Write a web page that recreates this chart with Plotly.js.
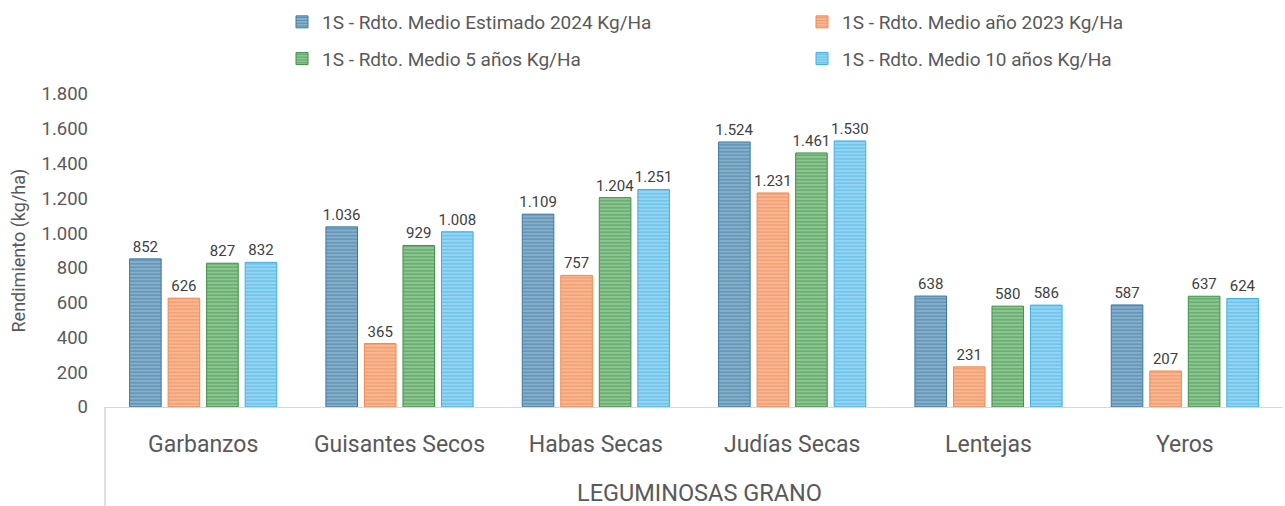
<!DOCTYPE html>
<html>
<head>
<meta charset="utf-8">
<script src="https://cdn.plot.ly/plotly-3.0.1.min.js"></script>
<style>html,body{margin:0;padding:0;background:#fff;}#chart{width:1285px;height:506px;}</style>
</head>
<body>
<div id="chart"></div>
<script>
const categories = ["Garbanzos", "Guisantes Secos", "Habas Secas", "Judías Secas", "Lentejas", "Yeros"];
const seriesNames = [
  "1S - Rdto. Medio Estimado 2024 Kg/Ha",
  "1S - Rdto. Medio año 2023 Kg/Ha",
  "1S - Rdto. Medio 5 años Kg/Ha",
  "1S - Rdto. Medio 10 años Kg/Ha"
];
const rdto2024 = [852, 1036, 1109, 1524, 638, 587];
const rdto2023 = [626, 365, 757, 1231, 231, 207];
const rdto5 = [827, 929, 1204, 1461, 580, 637];
const rdto10 = [832, 1008, 1251, 1530, 586, 624];
const groupLabel = "LEGUMINOSAS GRANO";
const yTitle = "Rendimiento (kg/ha)";

const styles = [
  {bg: "#86AFCB", fg: "#2E6A91", line: "#3C7AA3"},
  {bg: "#F8B793", fg: "#EB7A3E", line: "#F08A52"},
  {bg: "#8CC690", fg: "#2F7D3B", line: "#3E9148"},
  {bg: "#95D5F3", fg: "#2EA4DD", line: "#3FB0E6"}
];
const values = [rdto2024, rdto2023, rdto5, rdto10];
const legendOf = ["legend", "legend2", "legend", "legend2"];

const traces = values.map((v, i) => ({
  type: "bar",
  name: seriesNames[i],
  x: categories,
  y: v,
  legend: legendOf[i],
  legendgroup: "g" + i,
  texttemplate: "%{y:,}",
  textposition: "outside",
  constraintext: "none",
  cliponaxis: false,
  textfont: {family: "Roboto, sans-serif", size: 15, color: "#404040"},
  marker: {
    color: styles[i].bg,
    line: {color: styles[i].line, width: 1},
    pattern: {shape: "-", fgcolor: styles[i].fg, bgcolor: styles[i].bg, size: 3.5, solidity: 0.35, fillmode: "overlay"}
  },
  hoverinfo: "y"
}));

const legendCommon = {
  orientation: "v",
  xref: "container", yref: "container",
  xanchor: "left", yanchor: "top",
  y: 1 - 3 / 506,
  font: {size: 19, color: "#595959"},
  itemwidth: 30,
  tracegroupgap: 9,
  bgcolor: "rgba(0,0,0,0)"
};

const layout = {
  width: 1285,
  height: 506,
  margin: {l: 105, r: 2, t: 94, b: 99, autoexpand: false},
  paper_bgcolor: "#ffffff",
  plot_bgcolor: "#ffffff",
  separators: ",.",
  font: {family: "Roboto, sans-serif", color: "#595959"},
  barmode: "group",
  bargap: 0.215,
  bargroupgap: 0.18,
  showlegend: true,
  legend: Object.assign({}, legendCommon, {x: 282 / 1285}),
  legend2: Object.assign({}, legendCommon, {x: 802 / 1285}),
  xaxis: {
    type: "category",
    showline: true,
    linecolor: "#d9d9d9",
    linewidth: 1,
    ticks: "",
    showgrid: false,
    zeroline: false,
    tickangle: 0,
    tickfont: {size: 23, color: "#595959"},
    ticklabelstandoff: 16
  },
  yaxis: {
    range: [0, 1800],
    dtick: 200,
    tickformat: ",",
    showgrid: false,
    zeroline: false,
    showline: false,
    ticks: "",
    tickfont: {size: 18.5, color: "#595959"},
    ticklabelstandoff: 16
  },
  annotations: [
    {
      text: groupLabel,
      xref: "paper", yref: "paper",
      x: 0.505, y: -0.275,
      xanchor: "center", yanchor: "middle",
      showarrow: false,
      font: {size: 23.5, color: "#595959"}
    },
    {
      text: yTitle,
      xref: "paper", yref: "paper",
      x: -(105 - 18) / 1178, y: 0.5,
      xanchor: "center", yanchor: "middle",
      textangle: -90,
      showarrow: false,
      font: {size: 18, color: "#595959"}
    }
  ],
  shapes: [{
    type: "line", xref: "paper", yref: "paper",
    x0: 0, x1: 0, y0: 0, y1: -0.32,
    line: {color: "#bfbfbf", width: 1}
  }]
};

Plotly.newPlot("chart", traces, layout, {displayModeBar: false, responsive: false});
</script>
</body>
</html>
